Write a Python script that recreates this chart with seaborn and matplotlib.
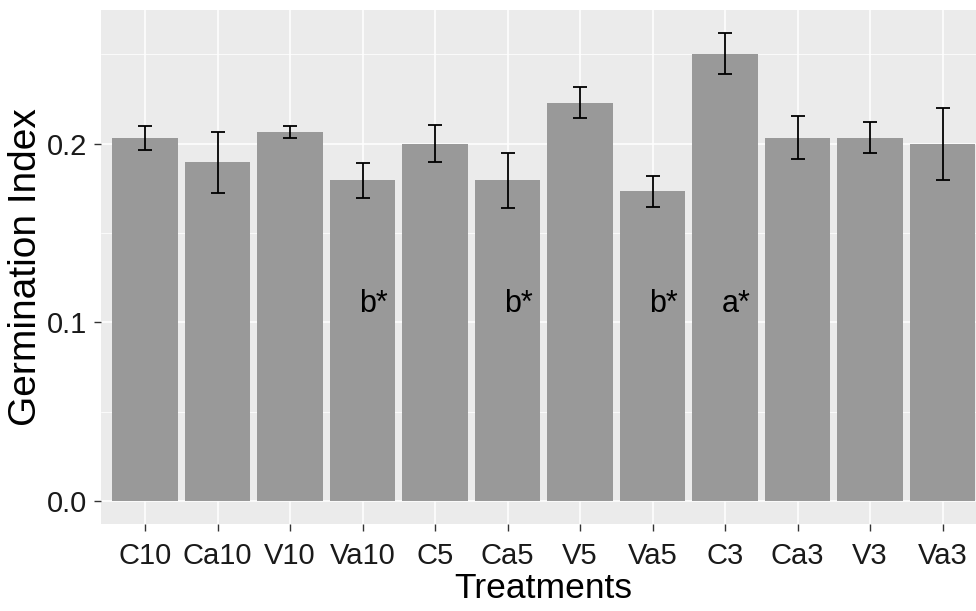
import numpy as np
import pandas as pd
import matplotlib
matplotlib.use('Agg')
import matplotlib.pyplot as plt
import seaborn as sns

tedaviler = ['C10', 'Ca10', 'V10', 'Va10', 'C5', 'Ca5', 'V5', 'Va5', 'C3', 'Ca3', 'V3', 'Va3']
ortalama = [0.2034, 0.1895, 0.2067, 0.1795, 0.2000, 0.1795, 0.2230, 0.1732, 0.2502, 0.2034, 0.2034, 0.2000]
hata = [0.0067, 0.0170, 0.0034, 0.0099, 0.0104, 0.0154, 0.0087, 0.0088, 0.0115, 0.0119, 0.0088, 0.0202]
etiketler = {'Va10': 'b*', 'Ca5': 'b*', 'Va5': 'b*', 'C3': 'a*'}
etiket_y = 0.11

df = pd.DataFrame({'Treatments': tedaviler, 'GI': ortalama, 'SE': hata})

sns.set_theme(style='darkgrid', rc={
    'axes.facecolor': '#EBEBEB',
    'grid.color': 'white',
    'axes.edgecolor': '#EBEBEB',
})
plt.rcParams['font.family'] = ['Liberation Sans', 'DejaVu Sans']

fig = plt.figure(figsize=(9.76, 6.11), dpi=100)
ax = fig.add_axes([101/976, 1 - 524.3/611, (986 - 101)/976, (524.3 - 10)/611])

sns.barplot(data=df, x='Treatments', y='GI', order=tedaviler, color='#999999',
            saturation=1, width=0.9, errorbar=None, linewidth=0, ax=ax, zorder=2)

xpos = np.arange(len(tedaviler))
ax.errorbar(xpos, df['GI'], yerr=df['SE'], fmt='none', ecolor='black',
            elinewidth=1.3, capsize=5, capthick=1.3, zorder=3)

for i, t in enumerate(tedaviler):
    if t in etiketler:
        ax.text(i + 0.15, etiket_y, etiketler[t], ha='center', va='center',
                fontsize=22, color='black', zorder=4)

ax.set_xlim(-0.607, len(tedaviler) - 0.4)
ymax = max(np.array(ortalama) + np.array(hata))
ax.set_ylim(-0.05 * ymax, 1.05 * ymax)
ax.set_yticks([0.0, 0.1, 0.2])
ax.set_yticklabels(['0.0', '0.1', '0.2'])
ax.set_yticks([0.05, 0.15, 0.25], minor=True)
ax.grid(which='major', color='white', linewidth=1.1, zorder=0)
ax.grid(which='minor', axis='y', color='white', linewidth=0.55, zorder=0)
ax.set_axisbelow(True)
for s in ax.spines.values():
    s.set_visible(False)

ax.tick_params(axis='both', which='major', length=5, width=1.0, color='#333333',
               labelsize=21, labelcolor='#1a1a1a', bottom=True, left=True)
ax.tick_params(axis='x', pad=8)
ax.tick_params(axis='y', pad=5)
ax.tick_params(which='minor', length=0)

ax.set_xlabel('Treatments', fontsize=25.5, color='black', labelpad=1)
ax.set_ylabel('Germination Index', fontsize=28, color='black', labelpad=2)

fig.savefig('out.png', dpi=100)
